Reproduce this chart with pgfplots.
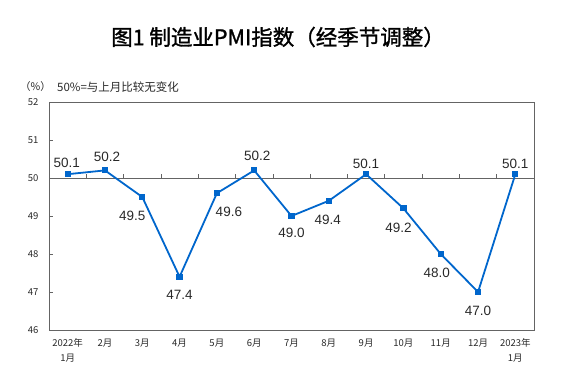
\documentclass[border=0pt]{standalone}
\usepackage{pgfplots}
\pgfplotsset{compat=1.18}
\usepackage{fontspec}
\setmainfont{Noto Sans CJK SC}
\newfontfamily\cjk{Noto Sans CJK SC}
\newfontfamily\titlefont[FakeBold=1.3]{Noto Sans CJK SC}
\newfontfamily\arial{Liberation Sans}
\definecolor{pmiblue}{RGB}{0,102,204}
\definecolor{axgray}{RGB}{100,100,100}
\definecolor{lbl}{RGB}{40,40,40}
\begin{document}
\begin{tikzpicture}[x=1pt,y=1pt]
\path[use as bounding box] (0,0) rectangle (563,374);
\node[font=\titlefont\fontsize{21.5}{24}\selectfont] at (278,337) {图1 制造业PMI指数（经季节调整）};
\node[anchor=west,font=\cjk\fontsize{10.5}{12}\selectfont,text=lbl,inner sep=0pt] at (20,287) {（\%）};
\node[anchor=west,font=\cjk\fontsize{11.5}{13}\selectfont,text=lbl,inner sep=0pt] at (57,287) {50\%=与上月比较无变化};
\begin{axis}[
  at={(49pt,44pt)}, anchor=south west,
  scale only axis, width=485pt, height=228pt,
  xmin=-0.5, xmax=12.5, ymin=46, ymax=52,
  ytick={46,47,48,49,50,51,52},
  xtick={0,...,12},
  xticklabels={{2022年\\1月},2月,3月,4月,5月,6月,7月,8月,9月,10月,11月,12月,{2023年\\1月}},
  x tick label style={align=center, font=\cjk\fontsize{9.5}{14.5}\selectfont, text=lbl, yshift=-5pt},
  y tick label style={font=\cjk\fontsize{9.5}{12}\selectfont, text=lbl, xshift=-7pt},
  xtick style={draw=none},
  ytick pos=left, tick align=inside,
  major tick length=4pt,
  ytick style={axgray, line width=0.6pt},
  axis line style={axgray, line width=0.8pt},
  extra y ticks={50}, extra y tick labels={},
  extra y tick style={grid=major, major grid style={axgray, line width=0.8pt}},
  /pgf/number format/assume math mode=true,
  clip=false,
]
\foreach \t in {0.5,1.5,2.5,3.5,4.5,5.5,6.5,7.5,8.5,9.5,10.5,11.5}{
  \edef\temp{\noexpand\draw[axgray, line width=0.6pt] (axis cs:\t,50) -- ++(0pt,3.5pt);}
  \temp
}
\addplot[pmiblue, line width=1.8pt, mark=square*, mark size=2.6pt,
  mark options={solid, fill=pmiblue, line width=0pt},
  nodes near coords={\pgfmathprintnumber[fixed,fixed zerofill,precision=1]{\pgfplotspointmeta}},
  visualization depends on={\thisrow{xo} \as \xo},
  visualization depends on={\thisrow{yo} \as \yo},
  nodes near coords style={anchor=center, xshift=\xo pt, yshift=\yo pt, font=\arial\fontsize{13.5}{15}\selectfont, text=lbl, inner sep=0pt},
] table[x=x, y=y] {
x y xo yo
0 50.1 -1 11
1 50.2 2 14
2 49.5 -10 -19
3 47.4 0 -18
4 49.6 12 -19
5 50.2 3 15
6 49.0 0 -17
7 49.4 -1 -19
8 50.1 0 10
9 49.2 -5 -19
10 48.0 -4 -19
11 47.0 0 -19
12 50.1 0 10
};
\end{axis}
\end{tikzpicture}
\end{document}
